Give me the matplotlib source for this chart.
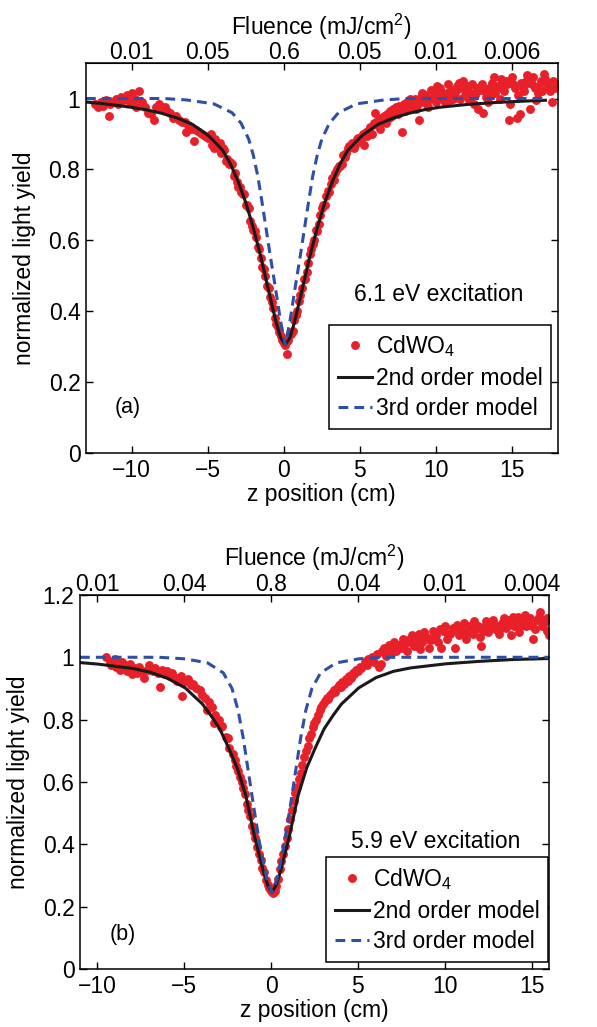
import matplotlib
matplotlib.use('Agg')
import matplotlib.pyplot as plt
from matplotlib.ticker import FuncFormatter

plt.rcParams['font.family'] = ['Liberation Sans', 'DejaVu Sans']
plt.rcParams['mathtext.fontset'] = 'custom'
plt.rcParams['mathtext.rm'] = 'Liberation Sans'
plt.rcParams['mathtext.default'] = 'regular'
plt.rcParams['font.size'] = 16.5

# ---------------- panel (a): 6.1 eV ----------------
za_data = [-12.4, -12.2, -12.0, -11.9, -11.7, -11.5, -11.4, -11.2, -11.0, -10.9, -10.7, -10.5, -10.3,
           -10.1, -10.0, -9.8, -9.7, -9.5, -9.3, -9.1, -8.9, -8.7, -8.5, -8.4, -8.2, -8.0, -7.8, -7.7,
           -7.5, -7.3, -7.1, -6.9, -6.7, -6.5, -6.4, -6.3, -6.1, -5.9, -5.8, -5.6, -5.4, -5.2, -5.0,
           -4.9, -4.7, -4.5, -4.3, -4.1, -3.9, -3.7, -3.5, -3.3, -3.1, -2.9, -2.7, -2.5, -2.3, -2.1,
           -1.9, -1.7, -1.5, -1.3, -1.1, -0.9, -0.7, -0.5, -0.3, -0.1, 0.1, 0.2, 0.3, 0.5, 0.7, 0.9,
           1.1, 1.3, 1.5, 1.7, 1.9, 2.1, 2.3, 2.5, 2.7, 2.9, 3.1, 3.3, 3.5, 3.7, 3.9, 4.1, 4.3, 4.5,
           4.7, 4.9,
           -4.8, -4.4, -4.0, -3.6, -3.2, -2.8, -2.4, -2.0, -1.6, -1.2, -0.8, -0.4, 0.0, 0.4, 0.8,
           1.2, 1.6, 2.0, 2.4, 2.8, 3.2, 3.6, 4.0, 4.4, 4.8,
           -4.6, -4.2, -3.8, -3.4, -3.0, -2.6, -2.2, -1.8, -1.4, -1.0, -0.6, -0.2, 0.2, 0.6, 1.0,
           1.4, 1.8, 2.2, 2.6, 3.0, 3.4, 3.8, 4.2, 4.6,
           5.1, 5.2, 5.3, 5.4, 5.5, 5.6, 5.7, 5.8, 5.9, 6.0, 6.1, 6.2, 6.3, 6.4, 6.5, 6.6, 6.7, 6.8,
           6.9, 7.0, 7.1, 7.2, 7.3, 7.4, 7.5, 7.6, 7.7, 7.8, 7.9, 8.0, 8.1, 8.2, 8.4, 8.5, 8.6, 8.8,
           8.9, 9.0, 9.2, 9.3, 9.5, 9.6, 9.8, 10.0, 10.2, 10.3, 10.5, 10.7, 10.9, 11.0, 11.2, 11.4,
           11.6, 11.8, 12.0, 12.2, 12.4, 12.6, 12.8, 12.9, 13.1, 13.3, 13.5, 13.7, 13.9, 14.1, 14.3,
           14.5, 14.7, 14.8, 14.9, 15.0, 15.2, 15.3, 15.5, 15.6, 15.8, 16.0, 16.2, 16.3, 16.5, 16.7,
           16.9, 17.1, 17.3, 17.5, 17.6, 17.8, 17.9,
           8.3, 8.7, 9.1, 9.4, 9.7, 9.9, 10.1, 10.4, 10.6, 10.8, 11.1, 11.3, 11.5, 11.7, 11.9, 12.1,
           12.3, 12.5, 12.7, 13.0, 13.2, 13.4, 13.6, 13.8, 14.0, 14.2, 14.4, 14.6, 15.1, 15.4, 15.7,
           15.9, 16.1, 16.4, 16.6, 16.8, 17.0, 17.2, 17.4, 17.7]
ya_data = [0.985, 0.975, 0.99, 0.98, 0.995, 0.95, 0.985, 0.99, 1.0, 0.985, 1.005, 0.995, 1.01,
           0.99, 1.015, 1.0, 0.975, 1.02, 0.99, 0.975, 0.96, 0.955, 0.94, 0.975, 0.985, 0.97, 0.975, 0.965,
           0.96, 0.945, 0.95, 0.94, 0.935, 0.935, 0.906, 0.925, 0.915, 0.88, 0.91, 0.905, 0.9, 0.895, 0.89,
           0.895, 0.87, 0.885, 0.86, 0.845, 0.855, 0.83, 0.82, 0.78, 0.765, 0.75, 0.73, 0.7, 0.69, 0.64,
           0.625, 0.58, 0.55, 0.52, 0.47, 0.44, 0.41, 0.365, 0.34, 0.32, 0.305, 0.28, 0.32, 0.335, 0.375, 0.4,
           0.445, 0.49, 0.51, 0.56, 0.59, 0.63, 0.645, 0.69, 0.7, 0.74, 0.76, 0.77, 0.8, 0.81, 0.84, 0.845, 0.865, 0.875,
           0.87, 0.89,
           0.9, 0.875, 0.86, 0.815, 0.79, 0.735, 0.7, 0.63, 0.575, 0.5, 0.425, 0.355, 0.31, 0.335, 0.39,
           0.465, 0.535, 0.6, 0.67, 0.725, 0.775, 0.81, 0.835, 0.87, 0.885,
           0.86, 0.875, 0.825, 0.815, 0.75, 0.73, 0.655, 0.61, 0.525, 0.465, 0.38, 0.33, 0.315, 0.345, 0.43,
           0.49, 0.575, 0.625, 0.7, 0.735, 0.79, 0.815, 0.86, 0.86,
           0.88, 0.9, 0.87, 0.905, 0.895, 0.91, 0.92, 0.9, 0.93, 0.96, 0.925, 0.94, 0.915, 0.945, 0.935, 0.95, 0.93, 0.955,
           0.945, 0.965, 0.95, 0.97, 0.96, 0.975, 0.955, 0.98, 0.97, 0.905, 0.985, 0.965, 0.99, 0.975, 0.995, 0.98, 1.0, 0.985,
           0.94, 1.005, 0.99, 1.01, 0.975, 1.0, 1.02, 0.99, 1.01, 1.03, 1.0, 1.015, 0.995, 1.025, 1.01, 1.035,
           1.0, 1.05, 1.02, 0.995, 1.04, 1.01, 0.97, 1.025, 0.96, 1.005, 1.03, 1.045, 1.015, 1.035, 1.055,
           1.02, 1.04, 0.94, 0.985, 1.06, 1.03, 0.945, 0.955, 1.045, 1.02, 1.065, 0.97, 1.04, 1.03, 1.015,
           1.05, 1.07, 1.045, 1.02, 0.99, 1.03, 1.04,
           1.0, 0.97, 1.015, 0.995, 1.025, 1.005, 1.035, 1.015, 0.99, 1.04, 1.0, 1.02, 1.045, 1.03, 1.01, 1.035,
           1.015, 0.985, 1.03, 1.04, 1.02, 0.99, 1.01, 1.06, 1.03, 1.0, 1.04, 1.05, 1.04, 1.01, 1.03,
           1.05, 1.045, 1.06, 0.995, 1.035, 1.02, 1.055, 1.035, 1.05]

za_2nd = [-13, -12, -11, -10, -9, -8, -7, -6, -5, -4.5, -4, -3.5, -3, -2.5, -2, -1.5, -1, -0.5, -0.2, 0.1,
          0.4, 0.7, 1.2, 1.7, 2.2, 2.7, 3.2, 3.7, 4.2, 4.7, 5.2, 6.2, 7.2, 8.2, 9.2, 10.2, 12, 14, 16, 17.2]
ya_2nd = [0.99, 0.986, 0.981, 0.975, 0.968, 0.958, 0.945, 0.927, 0.897, 0.876, 0.853, 0.815, 0.766, 0.707,
          0.635, 0.552, 0.459, 0.368, 0.325, 0.305,
          0.325, 0.368, 0.459, 0.552, 0.635, 0.707, 0.766, 0.815, 0.853, 0.876, 0.897, 0.927, 0.945, 0.958,
          0.968, 0.975, 0.983, 0.989, 0.993, 0.995]

za_3rd = [-13, -7.9, -6.4, -4.6, -3.4, -2.8, -2.3, -2.0, -1.7, -1.4, -1.15, -0.9, -0.6, -0.2, 0.1,
          0.4, 0.8, 1.1, 1.35, 1.6, 1.9, 2.2, 2.5, 3.0, 3.6, 4.8, 6.6, 8.1, 17.2]
ya_3rd = [1.0, 1.0, 0.996, 0.985, 0.96, 0.93, 0.885, 0.84, 0.78, 0.7, 0.63, 0.56, 0.48, 0.37, 0.305,
          0.37, 0.48, 0.56, 0.63, 0.7, 0.78, 0.84, 0.885, 0.93, 0.96, 0.985, 0.996, 1.0, 1.0]

# ---------------- panel (b): 5.9 eV ----------------
zb_data = [-9.5, -9.3, -9.2, -9.0, -8.9, -8.7, -8.6, -8.4, -8.3, -8.1, -8.0, -7.9, -7.7, -7.6, -7.4, -7.3,
           -7.1, -7.0, -6.8, -6.7, -6.5, -6.4, -6.3, -6.1, -6.0, -5.8, -5.7, -5.5, -5.4, -5.2, -5.1, -5.0,
           -4.8, -4.6, -4.5, -4.3, -4.1, -4.0, -3.8, -3.7, -3.6, -3.4, -3.3, -3.2, -3.0, -2.9, -2.8, -2.6,
           -2.5, -2.4, -2.2, -2.1, -2.0, -1.9, -1.8, -1.7, -1.6, -1.5, -1.4, -1.3, -1.2, -1.1, -1.0, -0.9,
           -0.8, -0.7, -0.6, -0.5, -0.4, -0.3, -0.2, -0.1, 0.0, 0.1, 0.2, 0.3, 0.4, 0.5, 0.6, 0.7, 0.8,
           0.9, 1.0, 1.1, 1.2, 1.3, 1.4, 1.5, 1.6, 1.7, 1.8, 1.9, 2.0, 2.1, 2.2, 2.3, 2.4, 2.5, 2.6, 2.7,
           2.8, 2.9, 3.0, 3.1, 3.2, 3.3, 3.4, 3.5, 3.6, 3.7, 3.8, 3.9, 4.0, 4.1, 4.2, 4.3, 4.4, 4.5, 4.6,
           4.7, 4.8, 4.9, 5.0, 5.1, 5.2, 5.4, 5.5, 5.6, 5.8, 5.9, 6.1, 6.2, 6.3, 6.4, 6.6, 6.7, 6.9, 7.0,
           7.2, 7.3, 7.5, 7.7, 7.8, 8.0, 8.2, 8.4, 8.6, 8.7, 8.9, 9.1, 9.2, 9.4, 9.6, 9.8, 9.9, 10.1,
           10.3, 10.5, 10.6, 10.8, 11.0, 11.2, 11.4, 11.6, 11.8, 12.0, 12.1, 12.3, 12.5, 12.7, 12.9,
           13.1, 13.3, 13.5, 13.7, 13.8, 14.0, 14.2, 14.3, 14.5, 14.7, 14.9, 15.1, 15.2, 15.4, 15.5,
           15.7, 15.8, 15.9, 16.0,
           6.5, 6.8, 7.1, 7.4, 7.6, 7.9, 8.1, 8.3, 8.5, 8.8, 9.0, 9.3, 9.5, 9.7, 10.0, 10.2, 10.4,
           10.7, 10.9, 11.1, 11.3, 11.5, 11.7, 11.9, 12.2, 12.4, 12.6, 12.8, 13.0, 13.2, 13.4, 13.6,
           13.9, 14.1, 14.4, 14.6, 14.8, 15.0, 15.3, 15.6, 15.9]
yb_data = [1.0, 0.985, 0.975, 0.995, 0.97, 0.96, 0.985, 0.975, 0.955, 0.98, 0.945, 0.965, 0.95, 0.97, 0.955, 0.935,
           0.96, 0.975, 0.955, 0.965, 0.95, 0.905, 0.96, 0.945, 0.955, 0.94, 0.95, 0.935, 0.925, 0.94, 0.875, 0.92,
           0.93, 0.91, 0.915, 0.9, 0.895, 0.88, 0.87, 0.83, 0.855, 0.84, 0.79, 0.815, 0.8, 0.775, 0.78, 0.745,
           0.74, 0.71, 0.69, 0.67, 0.65, 0.635, 0.615, 0.6, 0.58, 0.56, 0.53, 0.51, 0.49, 0.46, 0.44, 0.42,
           0.39, 0.37, 0.35, 0.325, 0.31, 0.285, 0.27, 0.26, 0.25, 0.245, 0.25, 0.265, 0.29, 0.32, 0.345, 0.37, 0.395,
           0.42, 0.45, 0.48, 0.51, 0.54, 0.565, 0.585, 0.61, 0.63, 0.655, 0.68, 0.7, 0.715, 0.74, 0.755, 0.775, 0.79, 0.8, 0.815,
           0.83, 0.84, 0.85, 0.86, 0.87, 0.865, 0.88, 0.885, 0.895, 0.89, 0.9, 0.91, 0.905, 0.92, 0.915, 0.93, 0.925, 0.94, 0.935,
           0.95, 0.945, 0.96, 0.955, 0.97, 0.965, 0.985, 0.975, 0.995, 1.0, 0.985, 1.01, 0.97, 0.98, 1.02, 1.005, 1.025, 1.015, 1.03,
           1.02, 1.04, 1.03, 1.045, 1.02, 1.05, 1.035, 1.06, 1.025, 1.05, 1.065, 1.03, 1.055, 1.075, 1.05, 1.03, 1.085, 1.06,
           1.075, 1.095, 1.03, 1.07, 1.085, 1.06, 1.1, 1.075, 1.09, 1.065, 1.035, 1.1, 1.08, 1.105, 1.09,
           1.075, 1.11, 1.095, 1.12, 1.07, 1.1, 1.13, 1.08, 1.115, 1.1, 1.125, 1.06, 1.09, 1.13, 1.145,
           1.11, 1.12, 1.085, 1.07,
           1.03, 1.04, 1.05, 1.04, 1.06, 1.055, 1.07, 1.045, 1.075, 1.08, 1.06, 1.085, 1.07, 1.09, 1.1, 1.07, 1.085,
           1.105, 1.09, 1.11, 1.08, 1.09, 1.115, 1.1, 1.085, 1.115, 1.095, 1.12, 1.1, 1.09, 1.125, 1.105,
           1.13, 1.11, 1.1, 1.135, 1.115, 1.1, 1.12, 1.1, 1.125]

zb_2nd = [-11, -9.95, -7.95, -6.95, -5.95, -4.95, -3.95, -3.45, -2.95, -2.45, -1.95, -1.45, -0.95, -0.45, -0.2,
          0.05, 0.3, 0.55, 1.05, 1.55, 2.05, 2.55, 3.05, 3.55, 4.05, 5.05, 6.05, 7.05, 8.05, 10.05, 12, 14, 16]
yb_2nd = [0.983, 0.978, 0.964, 0.952, 0.932, 0.902, 0.85, 0.812, 0.77, 0.71, 0.645, 0.555, 0.425, 0.315, 0.27,
          0.245, 0.27, 0.315, 0.425, 0.555, 0.645, 0.71, 0.77, 0.812, 0.85, 0.902, 0.935, 0.955, 0.966, 0.979,
          0.987, 0.993, 0.996]

zb_3rd = [-11, -6.45, -4.95, -3.65, -2.75, -2.25, -1.9, -1.6, -1.3, -1.0, -0.65, -0.25, 0.05,
          0.35, 0.75, 1.1, 1.4, 1.7, 2.0, 2.35, 2.85, 3.75, 5.05, 6.55, 16]
yb_3rd = [1.0, 1.0, 0.995, 0.982, 0.95, 0.9, 0.83, 0.74, 0.63, 0.52, 0.4, 0.29, 0.245,
          0.29, 0.4, 0.52, 0.63, 0.74, 0.83, 0.9, 0.95, 0.982, 0.995, 1.0, 1.0]

xticks = [-10, -5, 0, 5, 10, 15]
fluence_a = ['0.01', '0.05', '0.6', '0.05', '0.01', '0.006']
fluence_b = ['0.01', '0.04', '0.8', '0.04', '0.01', '0.004']

RED = '#E8202A'
BLUE = '#2F4EA6'


def dibujar_panel(ax, z, y, z2, y2, z3, y3, xlim, ylim, yticks, fluence, texto, letra,
                  pos_texto, pos_letra, pos_leyenda):
    ax.plot(z, y, 'o', color=RED, markersize=6.4, markeredgewidth=0, label='CdWO$_4$')
    ax.plot(z2, y2, '-', color='#1a1a1a', lw=2.2, label='2nd order model')
    ax.plot(z3, y3, color=BLUE, lw=2.2, linestyle=(0, (3.2, 2.0)), label='3rd order model')

    ax.set_xlim(*xlim)
    ax.set_ylim(*ylim)
    ax.set_xticks(xticks)
    ax.set_yticks(yticks)
    ax.yaxis.set_major_formatter(FuncFormatter(lambda v, p: f'{v:g}'))
    ax.tick_params(direction='in', length=5, width=1, right=True, labelsize=16.5, pad=4)
    for s in ax.spines.values():
        s.set_linewidth(1.1)

    sec = ax.secondary_xaxis('top')
    sec.set_xticks(xticks, labels=fluence)
    sec.tick_params(direction='in', length=5, width=1, labelsize=16.5, pad=-1)
    sec.set_xlabel('Fluence (mJ/cm$^2$)', fontsize=16.5, labelpad=5)

    ax.set_xlabel('z position (cm)', fontsize=16.5, labelpad=1)
    ax.set_ylabel('normalized light yield', fontsize=16.5, labelpad=9)

    ax.text(pos_texto[0], pos_texto[1], texto, fontsize=16.5, va='center', ha='left')
    ax.text(pos_letra[0], pos_letra[1], letra, fontsize=15.5, va='center', ha='left')

    leg = ax.legend(loc='lower left', bbox_to_anchor=pos_leyenda, borderaxespad=0, fontsize=16.5,
                    handlelength=1.5, handletextpad=0.15, labelspacing=0.33, borderpad=0.38,
                    fancybox=False, framealpha=1, edgecolor='black', numpoints=1)
    leg.get_frame().set_linewidth(1.1)


fig = plt.figure(figsize=(5.97, 10.27), dpi=100)
ax1 = fig.add_axes([0.144, 0.5589, 0.790, 0.3797])
ax2 = fig.add_axes([0.134, 0.0565, 0.7856, 0.3642])

dibujar_panel(ax1, za_data, ya_data, za_2nd, ya_2nd, za_3rd, ya_3rd, (-13, 18), (0, 1.1),
              [0, 0.2, 0.4, 0.6, 0.8, 1.0], fluence_a, '6.1 eV excitation', '(a)',
              (4.6, 0.447), (-11.1, 0.127), (0.516, 0.0615))
dibujar_panel(ax2, zb_data, yb_data, zb_2nd, yb_2nd, zb_3rd, yb_3rd, (-11, 16), (0, 1.2),
              [0, 0.2, 0.4, 0.6, 0.8, 1.0, 1.2], fluence_b, '5.9 eV excitation', '(b)',
              (4.6, 0.41), (-9.3, 0.112), (0.525, 0.019))

plt.savefig('out.png', dpi=100)
